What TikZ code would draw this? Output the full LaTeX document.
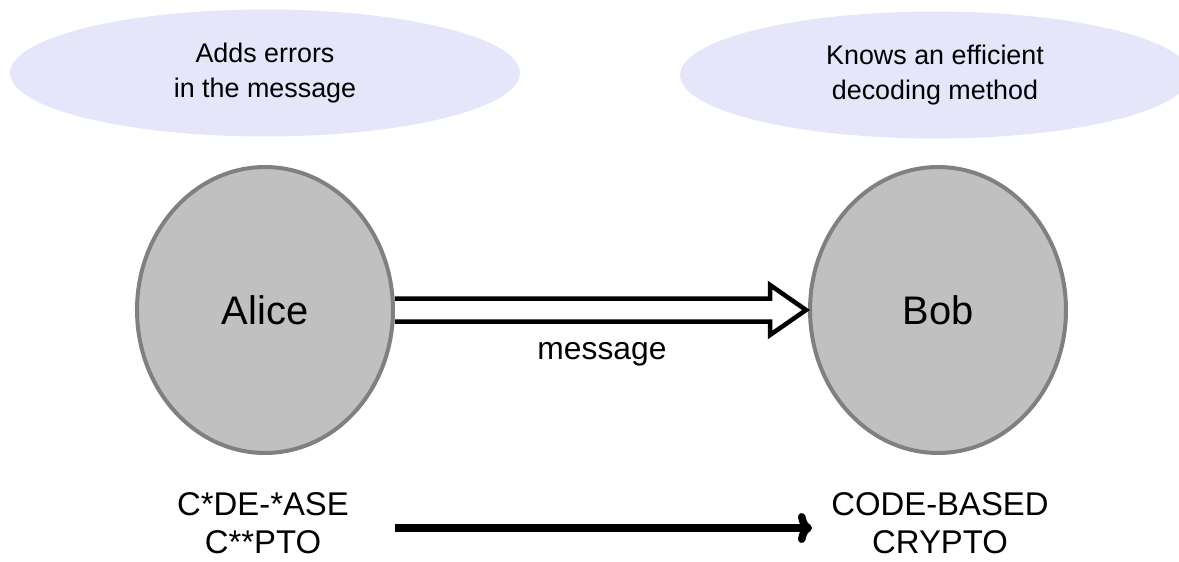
\documentclass[tikz,border=0pt]{standalone}
\usepackage{fontspec}
\setmainfont{Liberation Sans}
\usetikzlibrary{shapes.geometric,arrows.meta,calc}
\definecolor{bubble}{HTML}{E6E6FA}
\definecolor{partyfill}{HTML}{C0C0C0}
\definecolor{partyline}{HTML}{808080}
\begin{document}
\begin{tikzpicture}[x=0.02cm,y=-0.02cm,
  bubble/.style={ellipse,fill=bubble,draw=none,inner sep=0pt,
    minimum width=10.2cm,minimum height=2.54cm,align=center,
    font=\fontsize{15.3pt}{19.8pt}\selectfont},
  party/.style={ellipse,fill=partyfill,draw=partyline,line width=0.08cm,
    minimum width=5.12cm,minimum height=5.72cm,inner sep=0pt,
    font=\fontsize{22.7pt}{27pt}\selectfont},
  caption/.style={align=center,inner sep=0pt,
    font=\fontsize{18.7pt}{21.5pt}\selectfont},
  pipe/.style={line width=0.09cm,line join=miter,miter limit=10},
  plain/.style={line width=0.15cm,-{To[length=8pt,width=17pt]}}]
\useasboundingbox (0,0) rectangle (1179,561);

% thought bubbles
\node[bubble] (note1) at (265,73) {Adds errors\\in the message};
\node[bubble] (note2) at (935,75) {Knows an efficient\\decoding method};

% the two parties
\node[party] (Alice) at (265,310) {Alice};
\node[party] (Bob) at (938,310) {Bob};

% hollow double arrow carrying the message
\draw[pipe]
  ($(Alice.east)+(0,-11.5)$) -- ($(Bob.west)+(-38,-11.5)$)
  -- ($(Bob.west)+(-38,-25)$) -- ($(Bob.west)+(-2,0)$)
  -- ($(Bob.west)+(-38,25)$) -- ($(Bob.west)+(-38,11.5)$)
  -- ($(Alice.east)+(0,11.5)$);
\node[font=\fontsize{18.1pt}{22pt}\selectfont] (msg) at (602,354) {message};

% masked and clear texts
\node[caption] (masked) at (263,523) {C*DE-*ASE\\C**PTO};
\node[caption] (clear) at (940,523) {CODE-BASED\\CRYPTO};
\draw[plain] ($(Alice.east |- masked)+(0,5)$) -- ($(Bob.west |- clear)+(4,5)$);
\end{tikzpicture}
\end{document}
